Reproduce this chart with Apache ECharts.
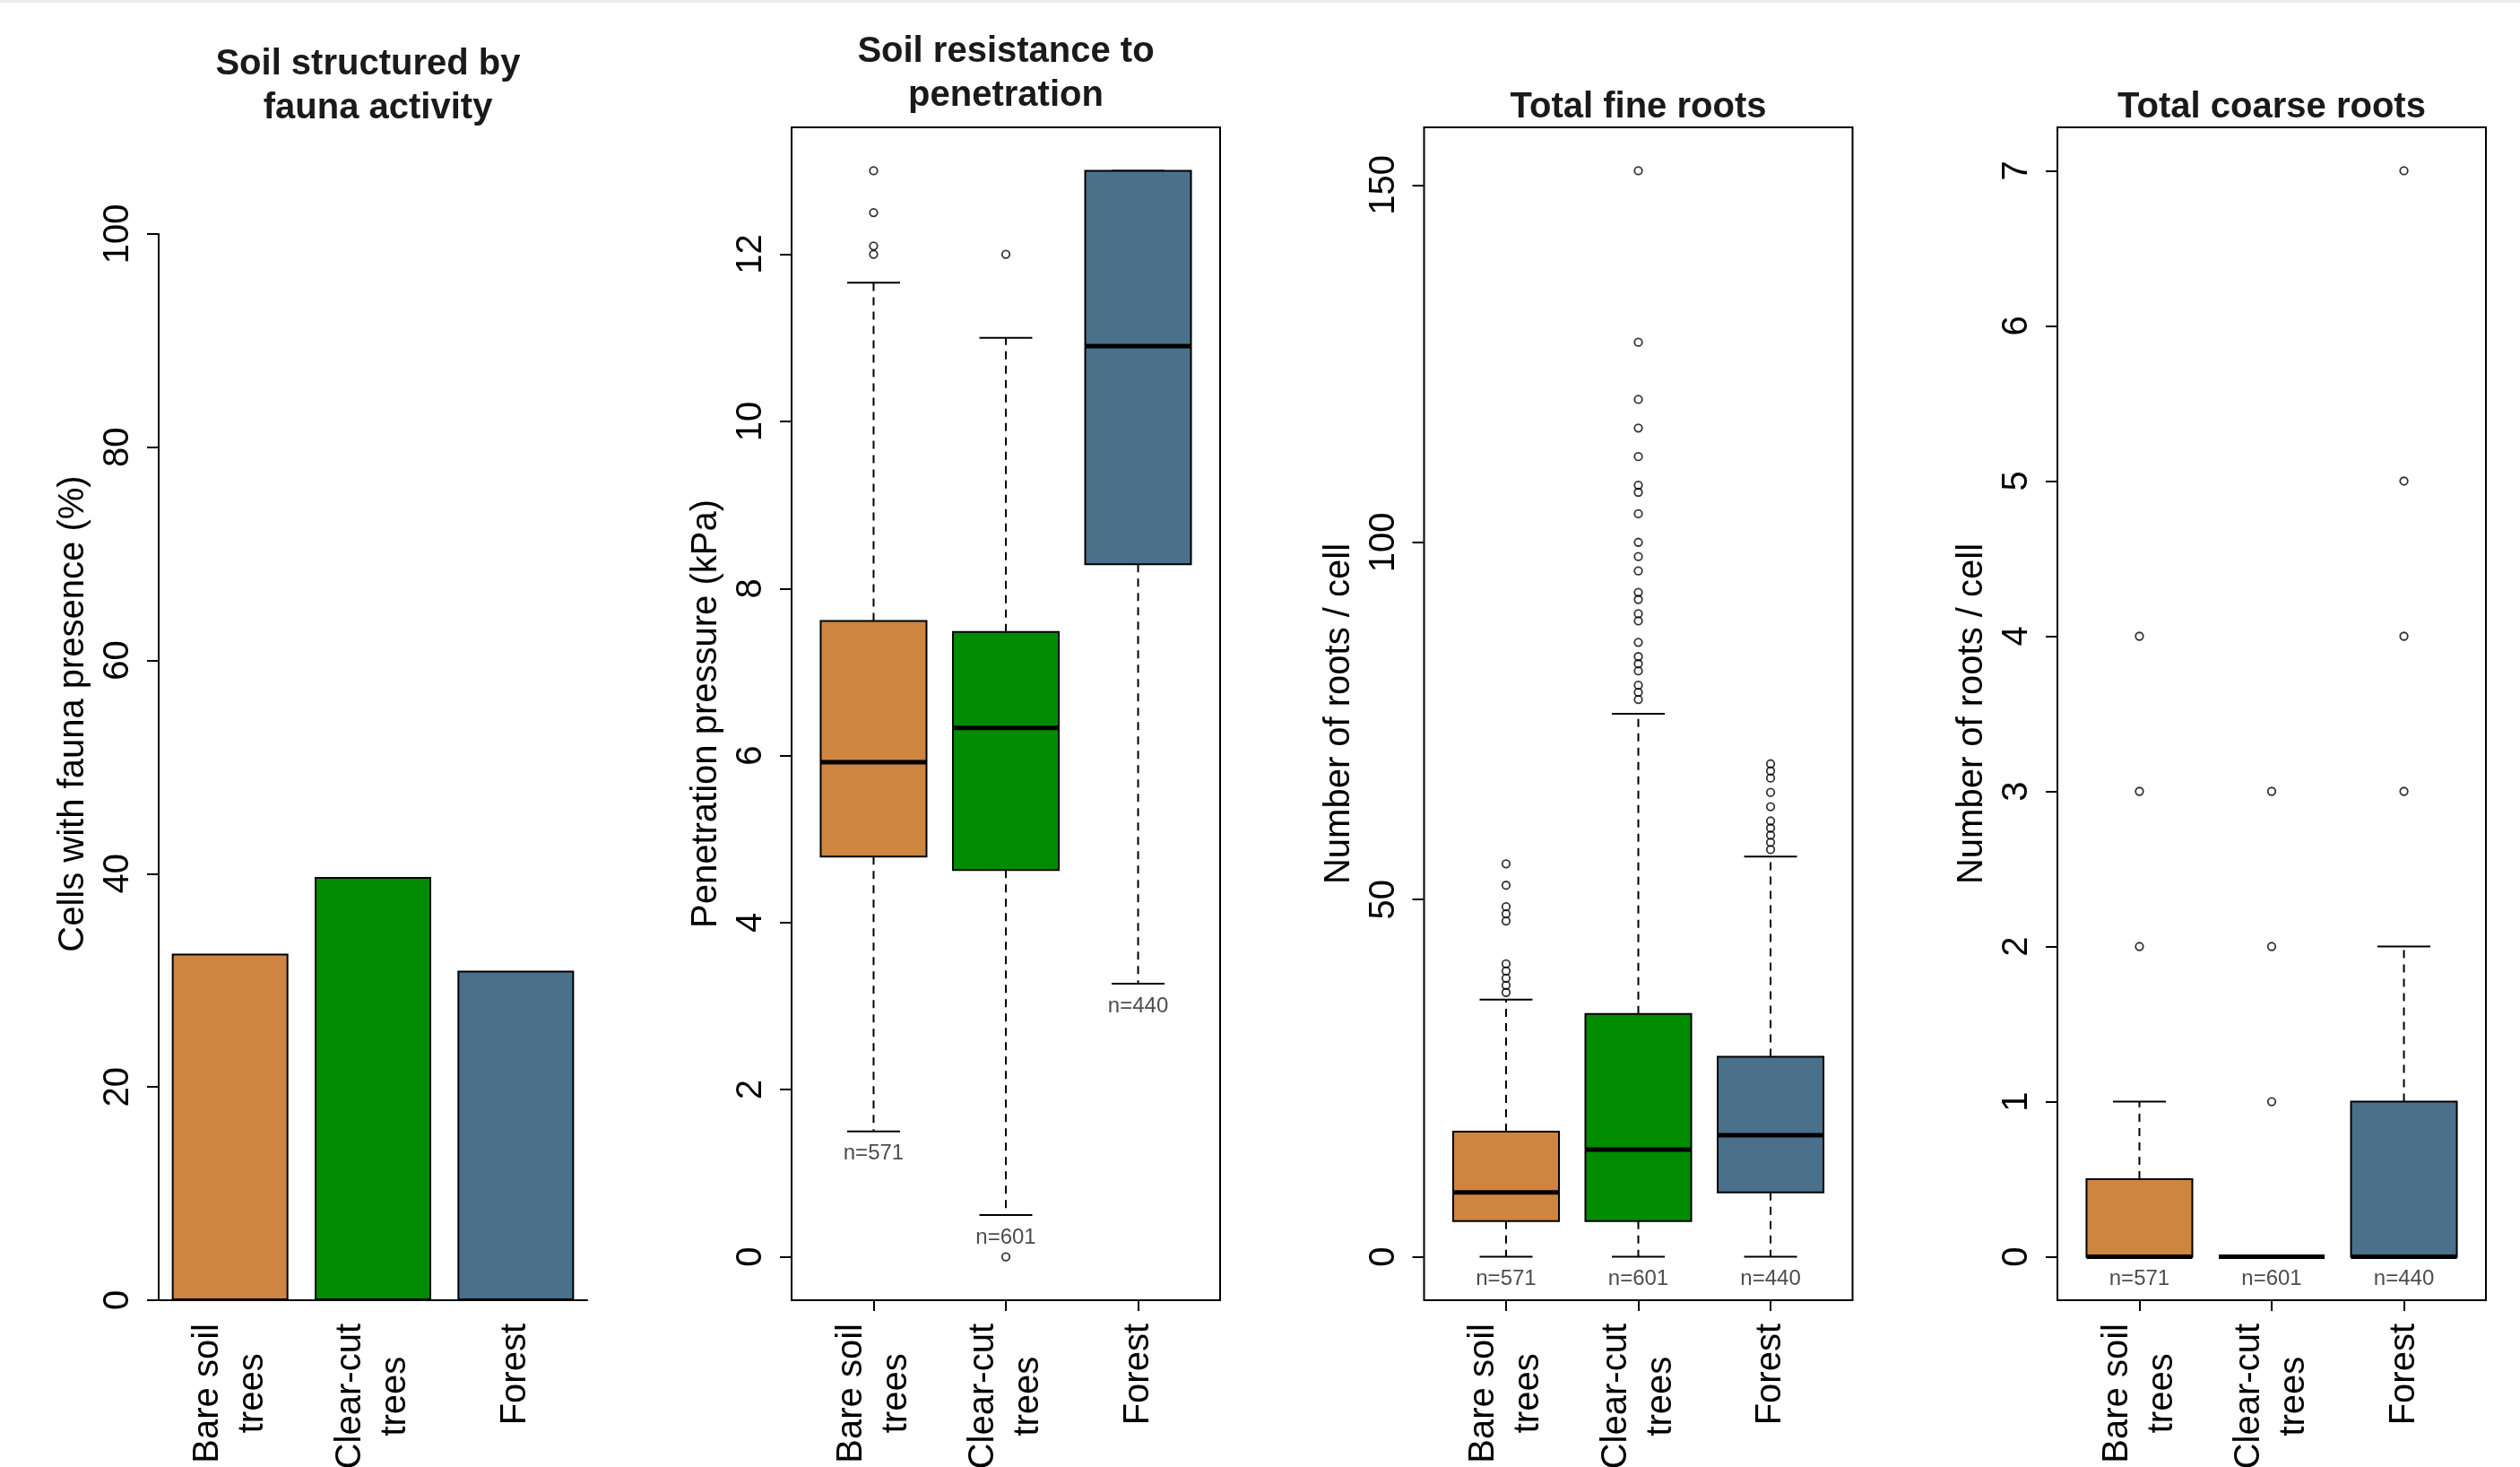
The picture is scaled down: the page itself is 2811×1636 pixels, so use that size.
<!DOCTYPE html>
<html>
<head>
<meta charset="utf-8">
<script src="https://cdn.jsdelivr.net/npm/echarts@6/dist/echarts.min.js"></script>
<style>
html, body { margin: 0; padding: 0; background: #ffffff; }
#chart { width: 2811px; height: 1636px; }
</style>
</head>
<body>
<div id="chart"></div>
<script>
// ---------------- DATA ----------------
const categories = ['Bare soil\ntrees', 'Clear-cut\ntrees', 'Forest'];
const sampleSizes = [571, 601, 440];

// Panel 1: % of cells with fauna presence
const faunaPresence = [32.5, 39.7, 30.9];
const faunaTicks = [0, 20, 40, 60, 80, 100];

// Box stats per group: [lower whisker, Q1, median, Q3, upper whisker]
const penetrationStats = [
  [1.5, 4.79, 5.92, 7.61, 11.66],
  [0.5, 4.63, 6.33, 7.48, 11.0],
  [3.27, 8.29, 10.9, 13.0, 13.0]
];
const penetrationOutliers = [
  [13.0, 12.5, 12.1, 12.0],
  [12.0, 0],
  []
];
const penetrationTicks = [0, 2, 4, 6, 8, 10, 12];

const fineRootStats = [
  [0, 5, 9, 17.5, 36],
  [0, 5, 15, 34, 76],
  [0, 9, 17, 28, 56]
];
const fineRootOutliers = [
  [55, 52, 49, 48, 47, 41, 40, 39, 38, 37],
  [152, 128, 120, 116, 112, 108, 107, 104, 100, 98, 96, 93, 92, 90, 89, 86, 84, 83, 82, 80, 79, 78],
  [69, 68, 67, 65, 63, 61, 60, 59, 58, 57]
];
const fineRootTicks = [0, 50, 100, 150];

const coarseRootStats = [
  [0, 0, 0, 0.5, 1],
  [0, 0, 0, 0, 0],
  [0, 0, 0, 1, 2]
];
const coarseRootOutliers = [
  [4, 3, 2],
  [3, 2, 1],
  [7, 5, 4, 3]
];
const coarseRootTicks = [0, 1, 2, 3, 4, 5, 6, 7];

const categoryPositions = [1, 2, 3];

// ---------------- STYLE / LAYOUT ----------------
const FONT = '"Liberation Sans", Arial, Helvetica, sans-serif';
const palette = ['#CD853F', '#008B00', '#4A708B'];
const PLOT_W = 478, PLOT_TOP = 142, PLOT_BOTTOM = 1450;
const panelLeft = [177, 883, 1588.5, 2295];
const BOX_HALF = 0.4, CAP_HALF = 0.2;

function rRange(stats, outliers) {
  const all = stats.flat().concat(outliers.flat());
  const lo = Math.min(...all), hi = Math.max(...all);
  const d = (hi - lo) * 0.04;
  return [lo - d, hi + d];
}

const boxPanels = [
  { stats: penetrationStats, outliers: penetrationOutliers, ticks: penetrationTicks,
    name: 'Penetration pressure (kPa)', title: 'Soil resistance to\npenetration', titleTop: 33 },
  { stats: fineRootStats, outliers: fineRootOutliers, ticks: fineRootTicks,
    name: 'Number of roots / cell', title: 'Total fine roots', titleTop: 95 },
  { stats: coarseRootStats, outliers: coarseRootOutliers, ticks: coarseRootTicks,
    name: 'Number of roots / cell', title: 'Total coarse roots', titleTop: 95 }
];

const labelStyle = { color: '#000', fontSize: 40, fontFamily: FONT };
const blackLine = { color: '#000', width: 2 };

// category labels: lines centred on each other, block right-aligned against the axis
const catLabel = {
  rotate: 90, margin: 26,
  formatter: (v) => String(v).split('\n').map(s => '{c|' + s + '}').join('\n'),
  rich: { c: { align: 'center', color: '#000', fontSize: 40, fontFamily: FONT, lineHeight: 50 } }
};

function boxRenderItem(params, api) {
  const x = api.value(0);
  const lw = api.value(1), q1 = api.value(2), med = api.value(3), q3 = api.value(4), uw = api.value(5);
  const n = api.value(6);
  const c = (xx, yy) => api.coord([xx, yy]);
  const color = palette[params.dataIndex];
  const dash = { stroke: '#000', lineWidth: 2, lineDash: [9, 7] };
  const solid = { stroke: '#000', lineWidth: 2 };
  const tl = c(x - BOX_HALF, q3), br = c(x + BOX_HALF, q1);
  const u0 = c(x, q3), u1 = c(x, uw), l0 = c(x, q1), l1 = c(x, lw);
  const cu0 = c(x - CAP_HALF, uw), cu1 = c(x + CAP_HALF, uw);
  const cl0 = c(x - CAP_HALF, lw), cl1 = c(x + CAP_HALF, lw);
  const m0 = c(x - BOX_HALF, med), m1 = c(x + BOX_HALF, med);
  return {
    type: 'group',
    children: [
      { type: 'line', shape: { x1: u0[0], y1: u0[1], x2: u1[0], y2: u1[1] }, style: dash },
      { type: 'line', shape: { x1: l0[0], y1: l0[1], x2: l1[0], y2: l1[1] }, style: dash },
      { type: 'line', shape: { x1: cu0[0], y1: cu0[1], x2: cu1[0], y2: cu1[1] }, style: solid },
      { type: 'line', shape: { x1: cl0[0], y1: cl0[1], x2: cl1[0], y2: cl1[1] }, style: solid },
      { type: 'rect', shape: { x: tl[0], y: tl[1], width: br[0] - tl[0], height: br[1] - tl[1] },
        style: { fill: color, stroke: '#000', lineWidth: 2 } },
      { type: 'line', shape: { x1: m0[0], y1: m0[1], x2: m1[0], y2: m1[1] },
        style: { stroke: '#000', lineWidth: 5 } },
      { type: 'text', x: l1[0], y: l1[1] + 13,
        style: { text: 'n=' + n, align: 'center', verticalAlign: 'top',
                 fill: '#4d4d4d', fontSize: 24, fontFamily: FONT } }
    ]
  };
}

// ---------------- OPTION ----------------
const grids = [
  { left: panelLeft[0], top: PLOT_BOTTOM - (PLOT_BOTTOM - PLOT_TOP) * 100 / 110, width: PLOT_W,
    height: (PLOT_BOTTOM - PLOT_TOP) * 100 / 110, containLabel: false, outerBoundsMode: 'none' }
];
boxPanels.forEach((p, i) => {
  grids.push({ left: panelLeft[i + 1], top: PLOT_TOP, width: PLOT_W, height: PLOT_BOTTOM - PLOT_TOP,
    show: true, borderColor: '#000', borderWidth: 2, backgroundColor: 'transparent',
    containLabel: false, outerBoundsMode: 'none' });
});
// holder grid for the panel-1 axis title (spans the full plot region)
grids.push({ left: panelLeft[0], top: PLOT_TOP, width: PLOT_W, height: PLOT_BOTTOM - PLOT_TOP,
  containLabel: false, outerBoundsMode: 'none' });

const xAxes = [
  { type: 'category', gridIndex: 0, data: categories, boundaryGap: true,
    axisLine: { show: true, onZero: false, lineStyle: blackLine }, axisTick: { show: false },
    axisLabel: Object.assign({ interval: 0 }, catLabel),
    splitLine: { show: false } }
];
const yAxes = [
  { type: 'value', gridIndex: 0, min: 0, max: 100, interval: 20,
    axisLine: { show: true, onZero: false, lineStyle: blackLine },
    axisTick: { show: true, length: 13, lineStyle: blackLine, customValues: faunaTicks },
    axisLabel: Object.assign({ rotate: 90, margin: 25, customValues: faunaTicks }, labelStyle),
    splitLine: { show: false } }
];
const series = [
  { type: 'bar', xAxisIndex: 0, yAxisIndex: 0, barWidth: 130, silent: true,
    data: faunaPresence.map((v, i) => ({ value: v, itemStyle: { color: palette[i] } })),
    itemStyle: { borderColor: '#000', borderWidth: 2 } }
];

boxPanels.forEach((p, i) => {
  const gi = i + 1;
  const range = rRange(p.stats, p.outliers);
  xAxes.push({ type: 'value', gridIndex: gi, min: 0.38, max: 3.62,
    axisLine: { show: false, onZero: false },
    axisTick: { show: true, length: 12, lineStyle: blackLine, customValues: categoryPositions },
    axisLabel: Object.assign({}, catLabel, { customValues: categoryPositions,
      formatter: (v) => categories[Math.round(v) - 1].split('\n').map(s => '{c|' + s + '}').join('\n') }),
    splitLine: { show: false } });
  yAxes.push({ type: 'value', gridIndex: gi, min: range[0], max: range[1],
    axisLine: { show: false, onZero: false },
    axisTick: { show: true, length: 13, lineStyle: blackLine, customValues: p.ticks },
    axisLabel: Object.assign({ rotate: 90, margin: 25, customValues: p.ticks }, labelStyle),
    splitLine: { show: false },
    name: p.name, nameLocation: 'middle', nameGap: 75,
    nameTextStyle: { color: '#000', fontSize: 40, fontFamily: FONT } });
  series.push({
    type: 'custom', xAxisIndex: gi, yAxisIndex: gi, silent: true,
    encode: { x: 0, y: [1, 2, 3, 4, 5] },
    data: p.stats.map((s, k) => [categoryPositions[k]].concat(s, [sampleSizes[k]])),
    renderItem: boxRenderItem
  });
  const pts = [];
  p.outliers.forEach((arr, k) => arr.forEach(v => pts.push([categoryPositions[k], v])));
  series.push({
    type: 'scatter', xAxisIndex: gi, yAxisIndex: gi, silent: true,
    symbol: 'circle', symbolSize: 8.5, data: pts,
    itemStyle: { color: 'rgba(0,0,0,0)', borderColor: '#000', borderWidth: 1.8 }
  });
});

// holder axes for panel-1 y title
xAxes.push({ type: 'value', gridIndex: 4, show: false, min: 0, max: 1 });
yAxes.push({ type: 'value', gridIndex: 4, min: 0, max: 1,
  axisLine: { show: false }, axisTick: { show: false }, axisLabel: { show: false }, splitLine: { show: false },
  name: 'Cells with fauna presence (%)', nameLocation: 'middle', nameGap: 75,
  nameTextStyle: { color: '#000', fontSize: 40, fontFamily: FONT } });

const titleStyle = { color: '#1a1a1a', fontSize: 40, fontWeight: 'bold', fontFamily: FONT, lineHeight: 49 };
const titles = [
  { text: 'Soil structured by \n fauna activity', left: panelLeft[0] + PLOT_W / 2, top: 47 }
].concat(boxPanels.map((p, i) => ({ text: p.title, left: panelLeft[i + 1] + PLOT_W / 2, top: p.titleTop })))
 .map(t => Object.assign(t, { textAlign: 'center', textVerticalAlign: 'top', padding: 0, textStyle: titleStyle }));

const option = {
  animation: false,
  backgroundColor: '#ffffff',
  title: titles,
  grid: grids,
  xAxis: xAxes,
  yAxis: yAxes,
  series: series,
  graphic: [
    { type: 'rect', left: 0, top: 0, shape: { width: 2811, height: 3 }, style: { fill: '#ececec' }, silent: true }
  ]
};

const chart = echarts.init(document.getElementById('chart'), null, { renderer: 'canvas' });
chart.setOption(option);
</script>
</body>
</html>
